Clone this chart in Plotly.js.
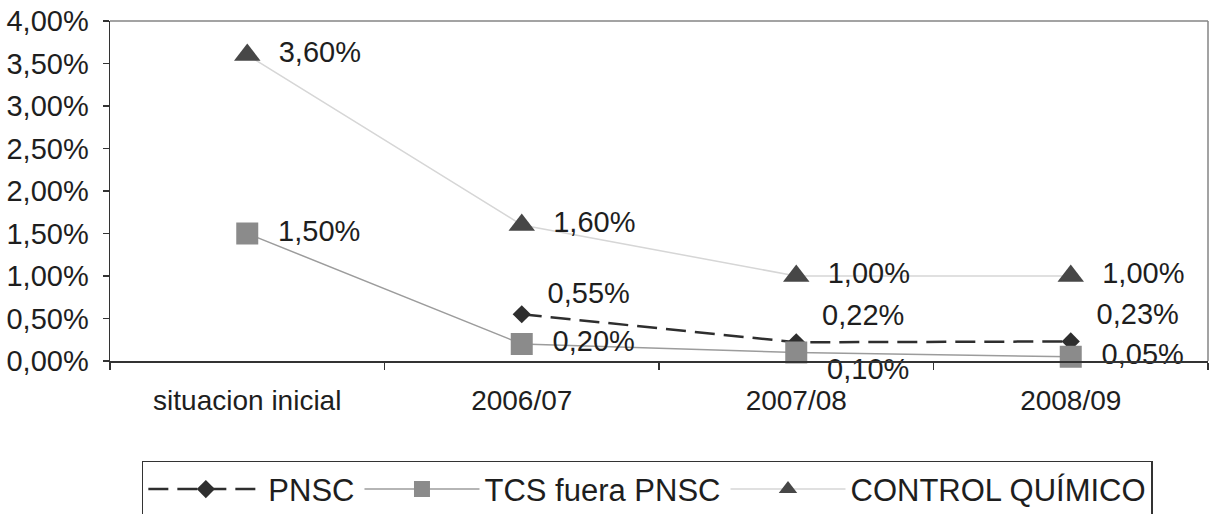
<!DOCTYPE html>
<html>
<head>
<meta charset="utf-8">
<script src="https://cdn.plot.ly/plotly-3.0.1.min.js"></script>
<style>
html,body{margin:0;padding:0;background:#fff;}
#chart{width:1211px;height:514px;}
</style>
</head>
<body>
<div id="chart"></div>
<script>
// Data
var categories = ["situacion inicial", "2006/07", "2007/08", "2008/09"];
var pnsc = [null, 0.0055, 0.0022, 0.0023];
var tcsFueraPnsc = [0.015, 0.002, 0.001, 0.0005];
var controlQuimico = [0.036, 0.016, 0.01, 0.01];
var seriesNames = ["PNSC", "TCS fuera PNSC", "CONTROL QUÍMICO"];
var yTickVals = [0, 0.005, 0.01, 0.015, 0.02, 0.025, 0.03, 0.035, 0.04];

var FONT = "Liberation Sans, Arial, sans-serif";
var NARROW = "Liberation Sans Narrow, Arial Narrow, Liberation Sans, Arial, sans-serif";
var SP = "\u00a0\u00a0";
var LBL = SP + "%{y:.2%}";

var traces = [
  {
    name: seriesNames[0], x: categories, y: pnsc, type: "scatter", mode: "lines+markers+text",
    line: {color: "#2e2e2e", width: 2.5, dash: "20px,9px"},
    marker: {symbol: "diamond", size: 14, color: "#2e2e2e"},
    texttemplate: ["", LBL + "<br>\u00a0", LBL, LBL],
    textposition: ["middle right", "middle right", "top right", "top right"],
    textfont: {family: NARROW, size: 29, color: "#1e1e1e"},
    connectgaps: false, cliponaxis: false, hoverinfo: "skip"
  },
  {
    name: seriesNames[1], x: categories, y: tcsFueraPnsc, type: "scatter", mode: "lines+markers+text",
    line: {color: "#9c9c9c", width: 1.5},
    marker: {symbol: "square", size: 22, color: "#8b8b8b"},
    texttemplate: [LBL, LBL, "\u00a0<br>" + LBL, LBL],
    textposition: "middle right",
    textfont: {family: NARROW, size: 29, color: "#1e1e1e"},
    cliponaxis: false, hoverinfo: "skip"
  },
  {
    name: seriesNames[2], x: categories, y: controlQuimico, type: "scatter", mode: "lines+markers+text",
    line: {color: "#d6d6d6", width: 1.5},
    marker: {symbol: "triangle-up", size: 23, color: "#474747"},
    texttemplate: LBL, textposition: "middle right",
    textfont: {family: NARROW, size: 29, color: "#1e1e1e"},
    cliponaxis: false, hoverinfo: "skip"
  }
];

var layout = {
  width: 1211, height: 514,
  margin: {l: 110, r: 3, t: 21, b: 153, autoexpand: false},
  paper_bgcolor: "#ffffff", plot_bgcolor: "#ffffff",
  separators: ",.",
  font: {family: FONT, color: "#1e1e1e"},
  showlegend: true,
  xaxis: {
    type: "category", range: [-0.5, 3.5],
    showline: true, linecolor: "#333333", linewidth: 1.5,
    ticks: "outside", tickson: "boundaries", ticklen: 7, tickcolor: "#333333", tickwidth: 1.5,
    tickfont: {family: FONT, size: 28, color: "#1e1e1e"},
    ticklabelstandoff: 14,
    showgrid: false, zeroline: false, fixedrange: true
  },
  yaxis: {
    range: [0, 0.04], tickvals: yTickVals, tickformat: ".2%",
    showline: true, linecolor: "#333333", linewidth: 1.5,
    ticks: "outside", ticklen: 6, tickcolor: "#333333", tickwidth: 1.5,
    tickfont: {family: NARROW, size: 29, color: "#1e1e1e"},
    ticklabelstandoff: 8,
    showgrid: false, zeroline: false, fixedrange: true
  },
  shapes: [
    {type: "line", xref: "paper", yref: "paper", x0: 0, x1: 1, y0: 1, y1: 1, line: {color: "#858585", width: 1.5}},
    {type: "line", xref: "paper", yref: "paper", x0: 1, x1: 1, y0: 0, y1: 1, line: {color: "#858585", width: 1.5}}
  ],
  legend: {
    orientation: "h", x: 0.029, xanchor: "left", y: -0.294, yanchor: "top",
    bordercolor: "#333333", borderwidth: 1.5, bgcolor: "#ffffff",
    font: {family: FONT, size: 31, color: "#1e1e1e"},
    itemwidth: 115
  }
};

Plotly.newPlot("chart", traces, layout, {displayModeBar: false, staticPlot: true});
</script>
</body>
</html>
